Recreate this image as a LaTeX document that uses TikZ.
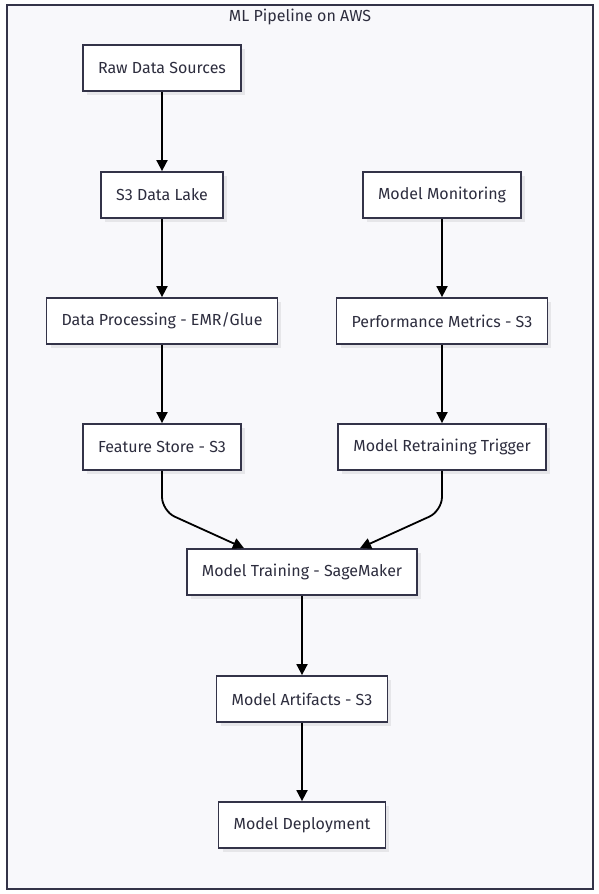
\documentclass[tikz,border=0pt]{standalone}
\usepackage{fontspec}
\setmainfont{Fira Sans}
\usepackage{tikz}
\usetikzlibrary{arrows.meta,calc,shadows,positioning}
\definecolor{tinta}{RGB}{45,45,62}
\definecolor{marco}{RGB}{51,51,72}
\definecolor{fondo}{RGB}{248,248,251}
\tikzstyle{box}  =[draw=marco, fill=white, line width=1.8pt,
                   minimum height=46pt, inner xsep=15pt,
                   text=tinta, font=\fontsize{16}{18}\selectfont,
                   drop shadow={shadow xshift=4pt, shadow yshift=-4pt,
                                fill=black, opacity=0.07}]
\tikzstyle{edge} =[-{Triangle[length=11pt,width=11pt]},
                   line width=1.8pt, draw=black]

\begin{document}
\begin{tikzpicture}[x=1pt,y=-1pt]
    \useasboundingbox (0,0) rectangle (598,894);
    \draw[draw=marco, fill=fondo, line width=2pt] (7,5) rectangle (593,889);
    \node[text=tinta, font=\fontsize{16}{18}\selectfont] (title) at (300,17) {ML Pipeline on AWS};

    % left column
    \node[box] (raw)  at (162,68)  {Raw Data Sources};
    \node[box] (lake) at (162,195) {S3 Data Lake};
    \node[box] (proc) at (162,321) {Data Processing - EMR/Glue};
    \node[box] (feat) at (162,447) {Feature Store - S3};

    % right column
    \node[box] (mon)  at (442,195) {Model Monitoring};
    \node[box] (perf) at (442,321) {Performance Metrics - S3};
    \node[box] (retr) at (442,447) {Model Retraining Trigger};

    % center column
    \node[box] (train) at (302,572) {Model Training - SageMaker};
    \node[box] (art)   at (302,699) {Model Artifacts - S3};
    \node[box] (dep)   at (302,825) {Model Deployment};

    \foreach \i/\j in {raw/lake,lake/proc,proc/feat,mon/perf,perf/retr,train/art,art/dep}
        \draw [edge] (\i) -- (\j);

    \draw [edge, rounded corners=14pt] (feat.south) -- ++(0,40)
        -- ($(train.north west)!0.25!(train.north east)$);
    \draw [edge, rounded corners=14pt] (retr.south) -- ++(0,40)
        -- ($(train.north west)!0.75!(train.north east)$);
\end{tikzpicture}
\end{document}
